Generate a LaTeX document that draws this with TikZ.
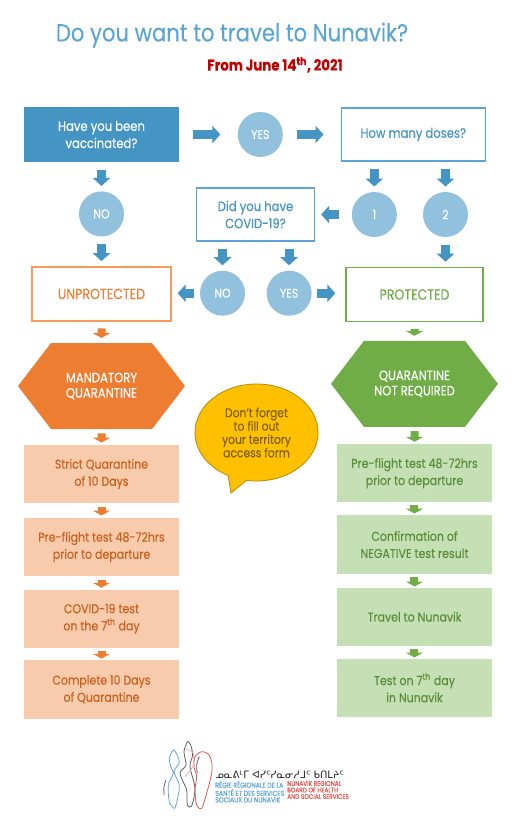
\documentclass[tikz,border=0pt]{standalone}
\usepackage{fontspec}
\setmainfont[FakeStretch=0.86, FakeBold=0.2]{Poppins}
\newfontfamily\syllfont{DejaVu Sans}
\usepackage{xcolor}
\usetikzlibrary{shapes.geometric, shapes.symbols, shapes.callouts, arrows.meta, positioning}
\definecolor{vacblue}{HTML}{4494C4}
\definecolor{ringblue}{HTML}{5CA5D2}
\definecolor{discblue}{HTML}{92C1DD}
\definecolor{orgdark}{HTML}{ED7D31}
\definecolor{orgline}{HTML}{F79A5B}
\definecolor{orgbox}{HTML}{F8CBAD}
\definecolor{orgtext}{HTML}{C9601C}
\definecolor{grndark}{HTML}{70AD47}
\definecolor{grnbox}{HTML}{C5E0B4}
\definecolor{grntext}{HTML}{5B8C3A}
\definecolor{bubfill}{HTML}{FFC000}
\definecolor{bubline}{HTML}{BC8C00}
\definecolor{bubtext}{HTML}{7F6000}
\definecolor{logored}{HTML}{E2534F}
\tikzstyle{question} = [rectangle, draw=ringblue, line width=0.9pt, fill=white,
                        text=vacblue, align=center, font=\fontsize{9.6}{12.2}\selectfont]
\tikzstyle{disc}     = [circle, fill=discblue, text=white, inner sep=0pt,
                        minimum size=1.125cm, font=\fontsize{9}{11}\selectfont]
\tikzstyle{status}   = [rectangle, line width=0.9pt, fill=white, minimum height=1.35cm,
                        font=\fontsize{10.4}{12}\selectfont]
\tikzstyle{verdict}  = [signal, signal to=east and west, signal pointer angle=105,
                        text=white, align=center, minimum width=4.175cm, minimum height=2.15cm,
                        inner sep=0pt, font=\fontsize{9.6}{10.9}\selectfont]
\tikzstyle{stepbox}  = [rectangle, align=center, minimum width=3.875cm, minimum height=1.46cm,
                        font=\fontsize{9.1}{12.2}\selectfont]
\tikzstyle{orgstep}  = [stepbox, fill=orgbox, text=orgtext]
\tikzstyle{grnstep}  = [stepbox, fill=grnbox, text=grntext]
\tikzstyle{arr}      = [vacblue, line width=0.225cm, -{Triangle[length=0.2cm, width=0.43cm]},
                        shorten <=0.19cm, shorten >=0.13cm]
\tikzstyle{harr}     = [arr, shorten <=0.35cm, shorten >=0.43cm]
\tikzstyle{smallarr} = [line width=0.2cm, -{Triangle[length=0.12cm, width=0.43cm]},
                        shorten <=0.17cm, shorten >=0.12cm]

\begin{document}
\begin{tikzpicture}
  \useasboundingbox (0,0) rectangle (13.075,-20.5);

  %% Heading
  \node[text=ringblue, font=\fontsize{17.5}{20}\selectfont] (title) at (5.8,-0.88)
      {Do you want to travel to Nunavik?};
  \node[text=red!75!black, font=\fontsize{11}{12}\selectfont\bfseries] (since) at (6.875,-1.62)
      {From June 14\textsuperscript{th}, 2021};

  %% First question and doses
  \node[question, draw=vacblue, fill=vacblue, text=white, minimum width=3.85cm, minimum height=1.35cm]
      (vac) at (2.5375,-3.3625) {Have you been\\vaccinated?};
  \node[disc, right=1.46cm of vac] (yesa) {YES};
  \node[question, minimum width=3.6cm, minimum height=1.33cm, right=1.44cm of yesa] (doses)
      {How many doses?};
  \node[disc, below=0.725cm of vac] (noa) {NO};
  \node[disc, below=0.75cm of doses, xshift=-0.975cm] (one) {1};
  \node[disc, right=0.64cm of one] (two) {2};
  \node[question, minimum width=2.95cm, minimum height=1.325cm, left=0.91cm of one] (covid)
      {Did you have\\COVID-19?};

  %% Outcome boxes
  \node[status, draw=orgline, text=orgdark, minimum width=3.475cm, below=0.74cm of noa] (unprot)
      {UNPROTECTED};
  \node[status, draw=grndark, text=grndark, minimum width=3.425cm,
        below=0.74cm of two, xshift=-0.775cm] (prot) {PROTECTED};
  \node[disc, below=0.72cm of covid, xshift=-0.825cm] (nob) {NO};
  \node[disc, below=0.72cm of covid, xshift=0.84cm] (yesb) {YES};

  \draw[harr] (vac.east |- yesa) -- (yesa);
  \draw[harr] (yesa) -- (doses.west |- yesa);
  \draw[arr] (vac) -- (noa);
  \draw[arr] (noa) -- (unprot);
  \draw[arr] (doses.south -| one) -- (one);
  \draw[arr] (doses.south -| two) -- (two);
  \draw[arr] (two) -- (prot.north -| two);
  \draw[arr, shorten <=0.31cm, shorten >=0.15cm] (one) -- (covid);
  \draw[arr] (covid.south -| nob) -- (nob);
  \draw[arr] (covid.south -| yesb) -- (yesb);
  \draw[arr, shorten <=0.14cm, shorten >=0.15cm] (nob) -- (unprot.east |- nob);
  \draw[arr, shorten <=0.13cm, shorten >=0.25cm] (yesb) -- (prot.west |- yesb);

  %% Left column
  \node[verdict, fill=orgdark, below=0.53cm of unprot] (mand) {MANDATORY\\QUARANTINE};
  \node[orgstep, below=0.38cm of mand] (la) {Strict Quarantine\\of 10 Days};
  \node[orgstep, below=0.35cm of la] (lb) {Pre-flight test 48-72hrs\\prior to departure};
  \node[orgstep, below=0.32cm of lb] (lc) {COVID-19 test\\on the 7\textsuperscript{th} day};
  \node[orgstep, below=0.29cm of lc] (ld) {Complete 10 Days\\of Quarantine};

  \draw[smallarr, orgdark] (unprot) -- (mand);
  \draw[smallarr, orgdark, shorten <=0.1cm, shorten >=0.05cm] (mand) -- (la);
  \draw[smallarr, orgdark, shorten <=0.08cm, shorten >=0.05cm] (la) -- (lb);
  \draw[smallarr, orgdark, shorten <=0.08cm, shorten >=0.04cm] (lb) -- (lc);
  \draw[smallarr, orgdark, shorten <=0.06cm, shorten >=0.03cm] (lc) -- (ld);

  %% Right column
  \node[verdict, fill=grndark, below=0.46cm of prot] (free) {QUARANTINE\\NOT REQUIRED};
  \node[grnstep, below=0.415cm of free] (ra) {Pre-flight test 48-72hrs\\prior to departure};
  \node[grnstep, below=0.31cm of ra] (rb) {Confirmation of\\NEGATIVE test result};
  \node[grnstep, below=0.33cm of rb] (rc) {Travel to Nunavik};
  \node[grnstep, below=0.3cm of rc] (rd) {Test on 7\textsuperscript{th} day\\in Nunavik};

  \draw[smallarr, grndark] (prot) -- (free);
  \draw[smallarr, grndark, shorten <=0.1cm, shorten >=0.05cm] (free) -- (ra);
  \draw[smallarr, grndark, shorten <=0.07cm, shorten >=0.04cm] (ra) -- (rb);
  \draw[smallarr, grndark, shorten <=0.08cm, shorten >=0.02cm] (rb) -- (rc);
  \draw[smallarr, grndark, shorten <=0.06cm, shorten >=0.02cm] (rc) -- (rd);

  %% Reminder bubble
  \node[ellipse callout, callout absolute pointer={(5.775,-12.325)}, callout pointer arc=18,
        fill=bubfill, draw=bubline, line width=0.6pt, text=bubtext, align=center,
        minimum width=3.075cm, minimum height=2.425cm, inner sep=0pt,
        font=\fontsize{8.9}{9.5}\selectfont] (remind) at (6.4125,-10.8125)
      {Don’t forget\\to fill out\\your territory\\access form};

  %% Logo
  \begin{scope}[x=0.008333cm, y=-0.008333cm, shift={(3.5cm,-18.25cm)}, line width=0.55pt]
    \draw[ringblue] plot[smooth cycle] coordinates {(100,60) (88,85) (93,112) (100,130) (85,165)
        (88,215) (103,235) (112,210) (118,165) (102,125) (118,98) (110,72)};
    \draw[black!65] plot[smooth cycle] coordinates {(143,35) (132,65) (138,105) (120,130) (140,180)
        (142,225) (155,228) (165,175) (150,110) (158,75) (152,45)};
    \draw[logored] plot[smooth cycle] coordinates {(185,65) (165,80) (162,110) (170,140) (165,180)
        (170,225) (185,235) (200,190) (215,130) (215,95) (205,72)};
    \draw[logored!50] plot[smooth] coordinates {(140,58) (160,70) (158,110) (135,140)};
    \draw[black!65] plot[smooth] coordinates {(78,150) (72,170) (72,195)};
    \draw[black!65] plot[smooth] coordinates {(178,80) (170,105) (172,130)};
  \end{scope}
  \node[anchor=west, inner sep=0pt, text=black!85, font=\syllfont\fontsize{7.2}{8}\selectfont]
      (sylltext) at (5.375,-19.36) {ᓄᓇᕕᒻᒥ ᐊᓯᑦᓯᓇᓂᓱᒧᑦ ᑲᑎᒪᔨᑦ};
  \node[anchor=north west, inner sep=0pt, align=left, text=ringblue,
        font=\fontsize{5.1}{4.65}\selectfont] (frtext) at (5.375,-19.52)
      {RÉGIE RÉGIONALE DE LA\\SANTÉ ET DES SERVICES\\SOCIAUX DU NUNAVIK};
  \node[anchor=north west, inner sep=0pt, align=left, text=logored,
        font=\fontsize{4.8}{4.65}\selectfont] (entext) at (7.175,-19.52)
      {NUNAVIK REGIONAL\\BOARD OF HEALTH\\AND SOCIAL SERVICES};
\end{tikzpicture}
\end{document}
